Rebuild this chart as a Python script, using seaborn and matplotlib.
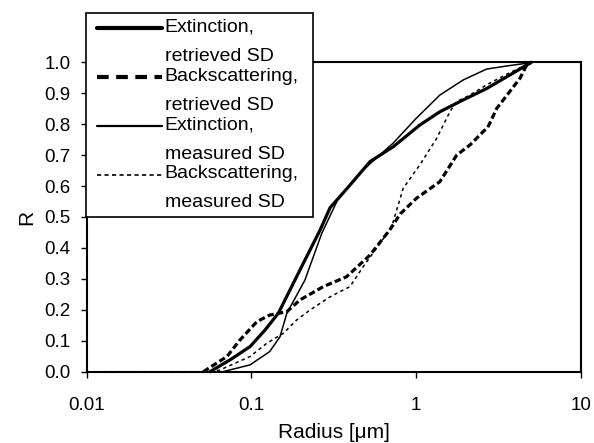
import numpy as np
import pandas as pd
import matplotlib
matplotlib.use("Agg")
import matplotlib.pyplot as plt
import seaborn as sns
from matplotlib.legend_handler import HandlerLine2D
from matplotlib.lines import Line2D
from matplotlib.ticker import FormatStrFormatter

# ---------------- data ----------------
ext_ret_r = [0.056, 0.074, 0.098, 0.121, 0.146, 0.197, 0.261, 0.30, 0.396, 0.524,
             0.725, 1.05, 1.39, 1.84, 2.67, 3.7, 4.68, 5.0]
ext_ret_R = [0.0, 0.038, 0.081, 0.135, 0.19, 0.329, 0.458, 0.53, 0.603, 0.679,
             0.727, 0.797, 0.840, 0.873, 0.915, 0.959, 0.991, 1.0]

bsc_ret_r = [0.051, 0.071, 0.085, 0.108, 0.129, 0.164, 0.197, 0.273, 0.378, 0.524,
             0.69, 0.80, 1.0, 1.39, 1.76, 2.12, 2.55, 2.72, 3.08, 4.26, 4.68, 5.0]
bsc_ret_R = [0.0, 0.049, 0.102, 0.162, 0.183, 0.194, 0.232, 0.275, 0.307, 0.377,
             0.458, 0.51, 0.56, 0.614, 0.700, 0.733, 0.776, 0.79, 0.851, 0.948, 0.991, 1.0]

ext_mea_r = [0.067, 0.098, 0.129, 0.149, 0.164, 0.211, 0.267, 0.333, 0.45, 0.6,
             0.725, 1.0, 1.39, 1.93, 2.67, 3.53, 4.4, 5.0]
ext_mea_R = [0.0, 0.022, 0.065, 0.113, 0.189, 0.296, 0.447, 0.555, 0.64, 0.70,
             0.739, 0.819, 0.894, 0.943, 0.978, 0.988, 0.995, 1.0]

bsc_mea_r = [0.0125, 0.055, 0.064, 0.098, 0.124, 0.156, 0.188, 0.226, 0.30, 0.396,
             0.476, 0.603, 0.71, 0.834, 1.05, 1.33, 1.60, 1.76, 2.12, 2.67, 3.5, 5.0]
bsc_mea_R = [0.0, 0.0, 0.005, 0.049, 0.092, 0.124, 0.167, 0.199, 0.242, 0.275,
             0.339, 0.415, 0.469, 0.593, 0.668, 0.754, 0.840, 0.873, 0.894, 0.927, 0.96, 1.0]

series_labels = ["Extinction,\nretrieved SD", "Backscattering,\nretrieved SD",
                 "Extinction,\nmeasured SD", "Backscattering,\nmeasured SD"]
x_ticks = [0.01, 0.1, 1, 10]
x_tick_labels = ["0.01", "0.1", "1", "10"]
y_ticks = [0.0, 0.1, 0.2, 0.3, 0.4, 0.5, 0.6, 0.7, 0.8, 0.9, 1.0]
x_label = "Radius [μm]"
y_label = "R"

# ---------------- style ----------------
sns.set_theme(style="white")
plt.rcParams['font.family'] = ['Liberation Sans', 'DejaVu Sans']
plt.rcParams['axes.edgecolor'] = 'black'

W, H = 594, 443
fig = plt.figure(figsize=(W / 100, H / 100), dpi=100)
x0, x1, y0, y1 = 86.7, 581.0, 371.7, 62.3
ax = fig.add_axes([x0 / W, 1 - y0 / H, (x1 - x0) / W, (y0 - y1) / H])

styles = [
    dict(lw=2.3, ls='-'),
    dict(lw=2.3, ls=(0, (2.0, 1.0))),
    dict(lw=1.1, ls='-'),
    dict(lw=1.1, ls=(0, (2.2, 2.2))),
]
data = [(ext_ret_r, ext_ret_R), (bsc_ret_r, bsc_ret_R),
        (ext_mea_r, ext_mea_R), (bsc_mea_r, bsc_mea_R)]

for (xr, yr), st in zip(data, styles):
    sns.lineplot(x=xr, y=yr, ax=ax, color='black', sort=False,
                 linewidth=st['lw'], linestyle=st['ls'], legend=False,
                 clip_on=False, zorder=3)

ax.set_xscale('log')
ax.set_xlim(0.01, 10)
ax.set_ylim(0, 1)
ax.set_xticks(x_ticks, x_tick_labels)
ax.minorticks_off()
ax.set_yticks(y_ticks)
ax.yaxis.set_major_formatter(FormatStrFormatter('%.1f'))
ax.tick_params(axis='both', which='major', direction='out', length=4.5, width=1.0,
               color='black', labelsize=13.5, labelcolor='black')
ax.tick_params(axis='x', pad=14)
ax.tick_params(axis='y', pad=7)
ax.tick_params(left=True, bottom=True)
for sp in ax.spines.values():
    sp.set_visible(True)
    sp.set_color('black')
    sp.set_linewidth(1.5)
    sp.set_zorder(2)
ax.set_xlabel(x_label, fontsize=15, color='black', labelpad=6)
ax.set_ylabel(y_label, fontsize=15, color='black', labelpad=6)
ax.grid(False)


class TopLineHandler(HandlerLine2D):
    def __init__(self, dy=0.0, dx0=0.0, **kw):
        super().__init__(**kw)
        self.dy = dy
        self.dx0 = dx0

    def create_artists(self, legend, orig_handle, xdescent, ydescent, width,
                       height, fontsize, trans):
        arts = super().create_artists(legend, orig_handle, xdescent, ydescent,
                                      width, height, fontsize, trans)
        for a in arts:
            yd = np.asarray(a.get_ydata(), dtype=float) + self.dy
            xd = np.asarray(a.get_xdata(), dtype=float).copy()
            xd[0] = xd[0] + self.dx0
            a.set_xdata(xd)
            a.set_ydata(yd)
        return arts


leg_styles = [
    dict(lw=3.0, ls='-'),
    dict(lw=3.0, ls=(0, (2.8, 1.8))),
    dict(lw=1.6, ls='-'),
    dict(lw=1.2, ls=(0, (2.5, 2.0))),
]
handles = [Line2D([], [], color='black', linewidth=s['lw'], linestyle=s['ls'])
           for s in leg_styles]
hmap = {h: TopLineHandler(dy=9.7, dx0=4) for h in handles}
lx0, lx1, ly0, ly1 = 86.0, 313.0, 13.0, 216.0
leg = fig.legend(handles, series_labels, loc='upper left',
                 bbox_to_anchor=(lx0 / W, 1 - ly1 / H, (lx1 - lx0) / W, (ly1 - ly0) / H),
                 bbox_transform=fig.transFigure, mode='expand', borderaxespad=0,
                 fontsize=14, handlelength=3.6, handletextpad=0.15,
                 labelspacing=0.15, borderpad=0.3, frameon=True, fancybox=False,
                 handler_map=hmap)
for t in leg.get_texts():
    t.set_linespacing(1.92)
    t.set_color('black')
fr = leg.get_frame()
fr.set_edgecolor('black')
fr.set_linewidth(1.2)
fr.set_facecolor('white')
fr.set_alpha(1)
leg.set_zorder(5)

fig.savefig('out.png', dpi=100)
